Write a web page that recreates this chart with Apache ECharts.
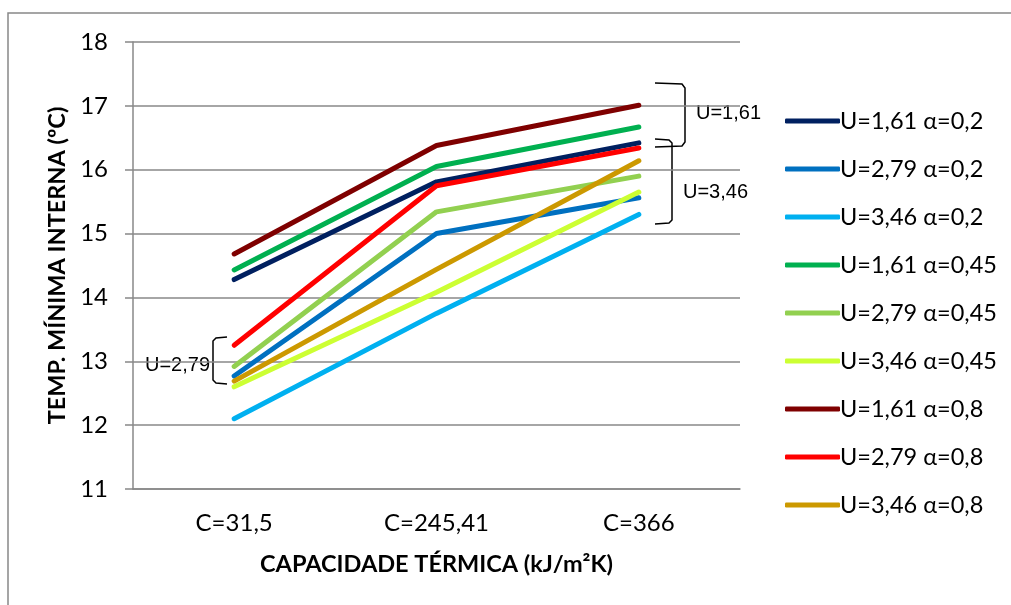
<!DOCTYPE html>
<html><head><meta charset="utf-8">
<script src="https://cdn.jsdelivr.net/npm/echarts@6/dist/echarts.min.js"></script>
<style>html,body{margin:0;padding:0;background:#fff}#c{width:1011px;height:605px}</style>
</head><body><div id="c"></div>
<script>
const categories = ['C=31,5', 'C=245,41', 'C=366'];
const seriesNames = ['U=1,61 α=0,2','U=2,79 α=0,2','U=3,46 α=0,2','U=1,61 α=0,45','U=2,79 α=0,45','U=3,46 α=0,45','U=1,61 α=0,8','U=2,79 α=0,8','U=3,46 α=0,8'];
const u161a02 = [14.28, 15.81, 16.42];
const u279a02 = [12.77, 15.00, 15.56];
const u346a02 = [12.10, 13.75, 15.30];
const u161a045 = [14.43, 16.05, 16.67];
const u279a045 = [12.92, 15.34, 15.90];
const u346a045 = [12.60, 14.08, 15.65];
const u161a08 = [14.68, 16.38, 17.01];
const u279a08 = [13.25, 15.75, 16.34];
const u346a08 = [12.69, 14.44, 16.14];
const seriesValues = [u161a02,u279a02,u346a02,u161a045,u279a045,u346a045,u161a08,u279a08,u346a08];
const colors = ['#002060','#0070C0','#00B0F0','#00B050','#92D050','#CCFF33','#7F0000','#FF0000','#CC9900'];

const chart = echarts.init(document.getElementById('c'), null, {renderer:'canvas'});
const font = 'Lato';
chart.setOption({
  backgroundColor:'#fff',
  animation:false,
  grid:{left:133, right:271, top:42, bottom:116},
  legend:{
    orient:'vertical', left:780, top:104,
    itemWidth:55, itemHeight:5, itemGap:24, icon:'roundRect',
    textStyle:{fontFamily:font, fontSize:23.5, color:'#000', lineHeight:24, padding:[0,0,0,-5]},
    data: seriesNames
  },
  xAxis:{
    type:'category', data:categories, boundaryGap:true,
    axisLine:{lineStyle:{color:'#888', width:1.5}},
    axisTick:{show:false},
    axisLabel:{fontFamily:font, fontSize:24, color:'#000', margin:22},
    name:'CAPACIDADE TÉRMICA (kJ/m²K)', nameLocation:'middle', nameGap:63,
    nameTextStyle:{fontFamily:font, fontSize:23.5, fontWeight:'bold', color:'#000'}
  },
  yAxis:{
    type:'value', min:11, max:18, interval:1,
    axisLine:{show:true, lineStyle:{color:'#888', width:1.5}},
    axisTick:{show:true, length:8, lineStyle:{color:'#888', width:1.5}},
    splitLine:{lineStyle:{color:'#888', width:1.5}},
    axisLabel:{fontFamily:font, fontSize:24, color:'#000', margin:25},
    name:'TEMP. MÍNIMA INTERNA (ºC)', nameLocation:'middle', nameGap:62,
    nameTextStyle:{fontFamily:font, fontSize:23.5, fontWeight:'bold', color:'#000'}
  },
  series: seriesNames.map((n,i)=>({
    name:n, type:'line', data:seriesValues[i], symbol:'none',
    lineStyle:{width:5, color:colors[i], cap:'round', join:'round'},
    itemStyle:{color:colors[i]}
  })),
  graphic:[
    {type:'rect', shape:{x:8, y:13, width:1100, height:700}, style:{fill:'none', stroke:'#888', lineWidth:1.5}, silent:true},
    {type:'polyline', shape:{points:[[655,83],[682,84],[685,88],[685,142],[682,146],[655,147]]}, style:{fill:'none', stroke:'#000', lineWidth:1.5}},
    {type:'text', style:{x:696, y:113, text:'U=1,61', fontFamily:'Liberation Sans', fontSize:20, fill:'#000', verticalAlign:'middle'}},
    {type:'polyline', shape:{points:[[655,139],[669,140],[672,143],[672,220],[669,223],[655,224]]}, style:{fill:'none', stroke:'#000', lineWidth:1.5}},
    {type:'text', style:{x:683, y:192, text:'U=3,46', fontFamily:'Liberation Sans', fontSize:20, fill:'#000', verticalAlign:'middle'}},
    {type:'polyline', shape:{points:[[227,337],[216,338],[213,341],[213,380],[216,383],[227,384]]}, style:{fill:'none', stroke:'#000', lineWidth:1.5}},
    {type:'text', style:{x:145, y:365, text:'U=2,79', fontFamily:'Liberation Sans', fontSize:20, fill:'#000', verticalAlign:'middle'}}
  ]
});
</script></body></html>
